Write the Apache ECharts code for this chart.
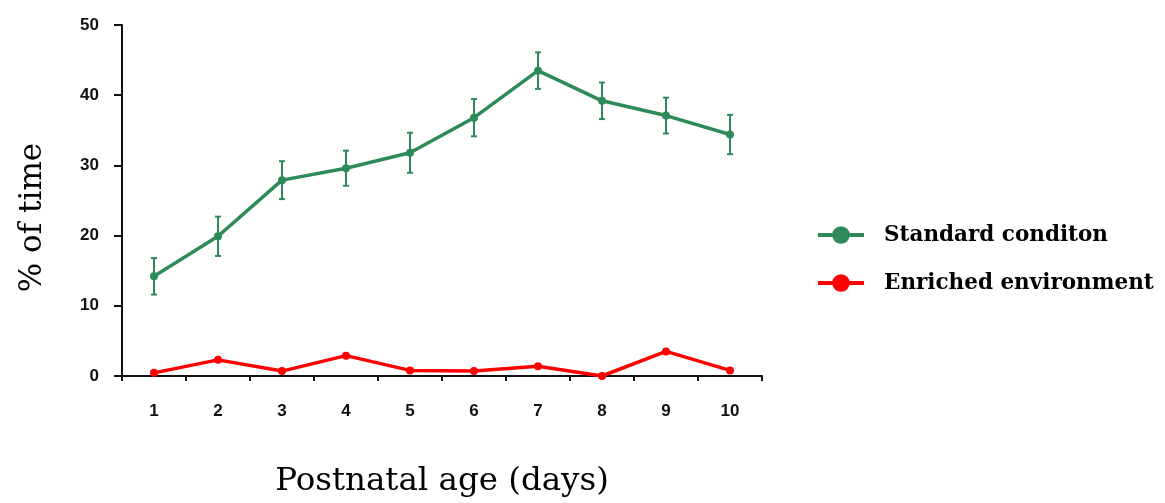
<!DOCTYPE html>
<html>
<head>
<meta charset="utf-8">
<script src="https://cdn.jsdelivr.net/npm/echarts@6/dist/echarts.min.js"></script>
<style>
html,body{margin:0;padding:0;background:#fff;overflow:hidden;}
#chart{width:1165px;height:503px;}
</style>
</head>
<body>
<div id="chart"></div>
<script>
// Data
var days = ['1', '2', '3', '4', '5', '6', '7', '8', '9', '10'];
var standardMean = [14.2, 19.9, 27.9, 29.6, 31.8, 36.8, 43.5, 39.2, 37.1, 34.4];
var standardErr = [2.6, 2.8, 2.7, 2.5, 2.85, 2.65, 2.6, 2.6, 2.55, 2.8];
var enrichedMean = [0.45, 2.3, 0.7, 2.9, 0.8, 0.7, 1.4, 0, 3.5, 0.8];
var yTicks = [0, 10, 20, 30, 40, 50];
var seriesNames = ['Standard conditon', 'Enriched environment'];
var xTitle = 'Postnatal age (days)';
var yTitle = '% of time';

var GREEN = '#2e8b57';
var RED = '#ff0000';

var errData = days.map(function (d, i) {
  return [i, standardMean[i] - standardErr[i], standardMean[i] + standardErr[i]];
});

var chart = echarts.init(document.getElementById('chart'));
chart.setOption({
  animation: false,
  backgroundColor: '#ffffff',
  grid: { left: 122, right: 403, top: 25, bottom: 121, containLabel: false },
  legend: {
    left: 811,
    top: 219,
    orient: 'vertical',
    itemWidth: 46,
    itemHeight: 22,
    itemGap: 26,
    data: seriesNames,
    lineStyle: { width: 4 },
    textStyle: {
      fontFamily: 'DejaVu Serif',
      fontWeight: 'bold',
      fontSize: 21.5,
      color: '#000',
      padding: [0, 0, 0, 15]
    }
  },
  xAxis: {
    type: 'category',
    data: days,
    boundaryGap: true,
    name: xTitle,
    nameLocation: 'middle',
    nameGap: 89,
    nameTextStyle: { fontFamily: 'DejaVu Serif', fontSize: 32.5, color: '#000' },
    axisLine: { lineStyle: { color: '#111', width: 2 } },
    axisTick: { show: true, length: 5, inside: false, lineStyle: { color: '#111', width: 2 } },
    axisLabel: {
      margin: 27,
      fontFamily: 'Liberation Sans',
      fontWeight: 'bold',
      fontSize: 17,
      color: '#111'
    },
    splitLine: { show: false }
  },
  yAxis: {
    type: 'value',
    min: yTicks[0],
    max: yTicks[yTicks.length - 1],
    interval: 10,
    name: yTitle,
    nameLocation: 'middle',
    nameGap: 74,
    nameRotate: 90,
    nameTextStyle: { fontFamily: 'DejaVu Serif', fontSize: 31, color: '#000', padding: [0, 34, 0, 0] },
    axisLine: { show: true, lineStyle: { color: '#111', width: 2 } },
    axisTick: { show: true, length: 8, lineStyle: { color: '#111', width: 2 } },
    axisLabel: {
      margin: 23,
      fontFamily: 'Liberation Sans',
      fontWeight: 'bold',
      fontSize: 17,
      color: '#111'
    },
    splitLine: { show: false }
  },
  series: [
    {
      name: seriesNames[0],
      type: 'line',
      data: standardMean,
      symbol: 'circle',
      symbolSize: 8,
      lineStyle: { color: GREEN, width: 3.5 },
      itemStyle: { color: GREEN },
      z: 3
    },
    {
      name: seriesNames[1],
      type: 'line',
      data: enrichedMean,
      symbol: 'circle',
      symbolSize: 8,
      lineStyle: { color: RED, width: 3.5 },
      itemStyle: { color: RED },
      z: 3
    },
    {
      name: 'err',
      type: 'custom',
      data: errData,
      encode: { x: 0, y: [1, 2] },
      z: 2,
      silent: true,
      renderItem: function (params, api) {
        var x = api.value(0);
        var lo = api.coord([x, api.value(1)]);
        var hi = api.coord([x, api.value(2)]);
        var cap = 3;
        var style = { stroke: GREEN, lineWidth: 2, fill: null };
        return {
          type: 'group',
          children: [
            { type: 'line', shape: { x1: lo[0], y1: lo[1], x2: hi[0], y2: hi[1] }, style: style },
            { type: 'line', shape: { x1: lo[0] - cap, y1: lo[1], x2: lo[0] + cap, y2: lo[1] }, style: style },
            { type: 'line', shape: { x1: hi[0] - cap, y1: hi[1], x2: hi[0] + cap, y2: hi[1] }, style: style }
          ]
        };
      }
    }
  ]
});
</script>
</body>
</html>
